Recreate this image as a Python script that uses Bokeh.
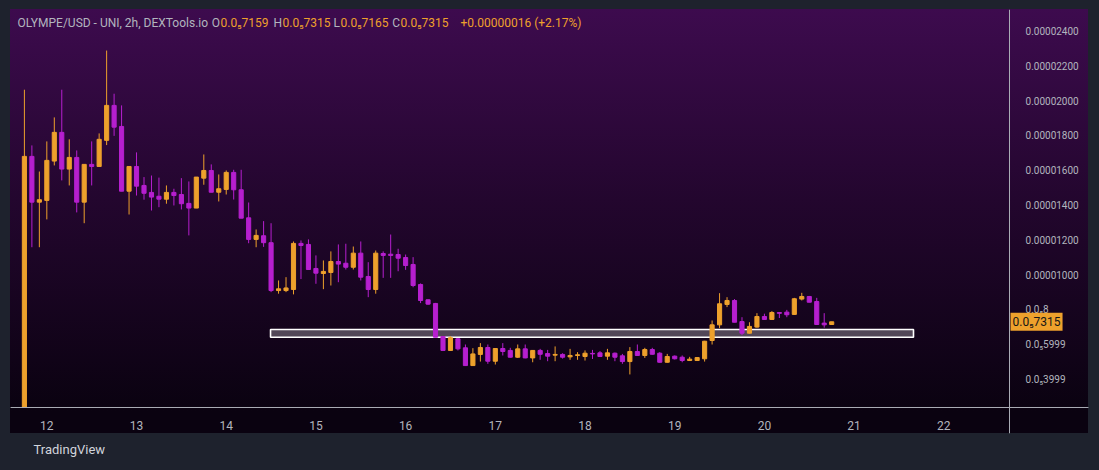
from bokeh.plotting import figure
from bokeh.models import ColumnDataSource, Range1d, LinearAxis, FixedTicker, Label, Title, Span
from bokeh.embed import file_html
from bokeh.resources import INLINE

# ---- data (prices in units of 1e-6 USD), 2h candles starting on day 11 at 18:00 ----
start_day = 11.75
step_days = 2 / 24
opens = [2.4, 16.82, 14.19, 14.29, 16.55, 18.2, 16.09, 16.76, 14.19, 16.36,
         16.24, 17.74, 19.75, 18.54, 14.82, 16.24, 15.15, 14.75, 14.53, 14.36,
         14.75, 14.63, 14.12, 13.85, 15.57, 16.01, 14.76, 14.92, 15.9, 14.9,
         13.29, 12.05, 12.26, 11.86, 9.11, 9.11, 9.17, 11.82, 11.76, 10.38,
         10.09, 10.15, 10.78, 10.68, 10.45, 11.26, 9.92, 9.17, 11.24, 11.2,
         11.18, 11.01, 10.61, 9.46, 8.58, 8.37, 6.47, 5.67, 6.34, 5.82,
         4.8, 5.44, 5.84, 5.05, 5.78, 5.67, 5.28, 5.76, 5.24, 5.67,
         5.49, 5.40, 5.44, 5.30, 5.38, 5.32, 5.5, 5.53, 5.34, 5.51,
         5.36, 5.03, 5.61, 5.38, 5.72, 5.51, 4.99, 5.34, 5.28, 5.09,
         5.09, 5.19, 6.24, 7.14, 8.31, 8.54, 7.33, 6.66, 7.01, 7.62,
         7.45, 7.85, 7.87, 7.74, 8.62, 8.77, 8.48, 7.24, 7.159]
highs = [20.65, 17.45, 15.95, 17.68, 19.06, 20.65, 17.8, 17.16, 16.36, 17.68,
         18.14, 22.9, 20.42, 19.75, 16.24, 17.05, 15.63, 15.72, 15.6, 15.15,
         14.96, 15.57, 15.38, 15.63, 16.93, 16.36, 15.78, 16.01, 16.05, 16.05,
         14.17, 12.62, 13.1, 12.98, 9.69, 9.88, 11.93, 11.99, 12.05, 11.13,
         10.84, 11.36, 11.76, 11.8, 11.64, 11.93, 10.74, 11.41, 11.36, 12.33,
         11.51, 11.18, 11.03, 9.52, 8.6, 8.4, 6.5, 6.49, 6.38, 6.01,
         5.8, 6.09, 6.01, 5.8, 6.09, 5.82, 6.01, 6.01, 5.69, 5.76,
         5.7, 5.9, 5.51, 5.76, 5.57, 5.67, 5.7, 5.63, 5.76, 5.55,
         5.47, 5.86, 6.01, 5.82, 5.82, 5.57, 5.47, 5.38, 5.38, 5.3,
         5.28, 6.22, 7.39, 8.96, 8.73, 8.62, 7.58, 7.29, 7.81, 7.78,
         7.93, 7.87, 8.0, 8.69, 8.98, 8.8, 8.69, 7.81, 7.315]
lows = [2.4, 11.6, 11.6, 13.2, 16.3, 15.44, 15.15, 13.6, 12.98, 15.15,
        16.24, 17.47, 18.0, 14.82, 13.48, 14.57, 14.33, 13.71, 13.9, 14.1,
        14.0, 13.77, 12.28, 13.85, 15.19, 14.76, 14.23, 14.63, 14.34, 13.27,
        11.83, 11.6, 11.62, 9.02, 8.93, 9.02, 8.89, 9.77, 10.32, 9.5,
        9.19, 9.4, 9.59, 10.32, 10.32, 9.69, 8.73, 8.93, 9.84, 9.84,
        10.22, 10.3, 9.3, 8.39, 8.3, 6.43, 5.67, 5.65, 5.67, 4.8,
        4.78, 5.03, 4.9, 4.86, 5.38, 5.26, 5.24, 5.22, 4.99, 5.13,
        5.05, 5.05, 5.2, 5.13, 5.13, 5.09, 5.18, 5.3, 5.13, 5.05,
        4.9, 4.29, 5.36, 5.24, 5.43, 4.97, 4.97, 5.15, 4.99, 5.07,
        5.07, 5.03, 6.01, 6.95, 8.16, 7.29, 6.55, 6.64, 6.98, 7.43,
        7.43, 7.53, 7.58, 7.72, 8.54, 8.44, 7.16, 6.98, 7.159]
closes = [16.82, 14.19, 14.33, 16.59, 18.2, 16.09, 16.76, 14.19, 16.36, 16.24,
          17.8, 19.75, 18.5, 14.82, 16.24, 15.11, 14.7, 14.48, 14.36, 14.75,
          14.57, 14.1, 13.85, 15.63, 16.01, 14.76, 14.96, 15.9, 14.9, 13.27,
          12.05, 12.28, 11.86, 9.11, 9.21, 9.26, 11.82, 11.7, 10.32, 10.11,
          10.21, 10.78, 10.63, 10.45, 11.26, 9.88, 9.17, 11.26, 11.13, 11.13,
          10.97, 10.55, 9.4, 8.54, 8.33, 6.43, 5.67, 6.4, 5.76, 4.8,
          5.47, 5.84, 5.05, 5.78, 5.61, 5.28, 5.76, 5.24, 5.67, 5.45,
          5.34, 5.44, 5.28, 5.38, 5.42, 5.51, 5.47, 5.32, 5.53, 5.28,
          5.03, 5.61, 5.38, 5.72, 5.45, 4.99, 5.32, 5.19, 5.09, 5.17,
          5.26, 6.2, 7.14, 8.35, 8.54, 7.29, 6.66, 7.05, 7.62, 7.45,
          7.85, 7.80, 7.72, 8.64, 8.77, 8.44, 7.16, 7.14, 7.315]

day_ticks = [12, 13, 14, 15, 16, 17, 18, 19, 20, 21, 22]
price_ticks = [3.999, 5.999, 8, 10, 12, 14, 16, 18, 20, 22, 24]
price_tick_labels = ["0.0\u20853999", "0.0\u20855999", "0.0\u20858", "0.00001000", "0.00001200",
                     "0.00001400", "0.00001600", "0.00001800", "0.00002000", "0.00002200",
                     "0.00002400"]
zone_days = [14.494, 21.662]
zone_prices = [6.43, 6.874]
last_price_text = "0.0\u20857315"
header_pair = "OLYMPE/USD - UNI, 2h, DEXTools.io"
header_ohlc = [("O", "0.0\u20857159"), ("H", "0.0\u20857315"), ("L", "0.0\u20857165"), ("C", "0.0\u20857315")]
header_change = "+0.00000016 (+2.17%)"

UP = "#eea12c"
DOWN = "#b61fcf"
TXT = "#b2b5be"
LINE = "#a9acb5"

times = [start_day + i * step_days for i in range(len(opens))]
colors = [UP if c >= o else DOWN for o, c in zip(opens, closes)]
src = ColumnDataSource(dict(
    t=times, o=opens, h=highs, l=lows, c=closes,
    top=[max(o, c) for o, c in zip(opens, closes)],
    bot=[min(o, c) for o, c in zip(opens, closes)],
    col=colors))

# visible price pane ends at the price scale / time scale lines
pane_right_day = 22.7325
pane_bottom_price = 2.391

W, H = 1099, 470
p = figure(width=W, height=H, output_backend="svg", toolbar_location=None,
           x_range=Range1d(11.595, 23.613), y_range=Range1d(0.8966, 25.26),
           min_border_left=10, min_border_top=9, min_border_right=11, min_border_bottom=37,
           x_axis_location=None, y_axis_location=None)
p.background_fill_alpha = 0
p.border_fill_alpha = 0
p.outline_line_color = None
p.xgrid.grid_line_color = None
p.ygrid.grid_line_color = None

panel_css = ("linear-gradient(180deg, #3d0b4e 0%, #23062e 45%, #0a0210 95%, #0a0210 100%) "
             "10px 9px / 1078px 424px no-repeat, #1e222d")
p.styles = {"background": panel_css}

# axes (drawn at the pane edges)
xa = LinearAxis(ticker=FixedTicker(ticks=day_ticks), fixed_location=pane_bottom_price)
xa.major_label_overrides = {d: str(d) for d in day_ticks}
xa.axis_line_color = LINE
xa.axis_line_width = 1
xa.major_tick_line_color = None
xa.minor_tick_line_color = None
xa.major_label_text_color = TXT
xa.major_label_text_font = "Roboto"
xa.major_label_text_font_size = "12px"
xa.major_label_standoff = 8
p.add_layout(xa, "below")

ya = LinearAxis(ticker=FixedTicker(ticks=price_ticks), fixed_location=pane_right_day)
ya.major_label_overrides = dict(zip(price_ticks, price_tick_labels))
ya.axis_line_color = LINE
ya.major_tick_line_color = None
ya.minor_tick_line_color = None
ya.major_label_text_color = TXT
ya.major_label_text_font = "Roboto"
ya.major_label_text_font_size = "10px"
ya.major_label_standoff = 10
p.add_layout(ya, "right")

p.add_layout(Span(location=pane_bottom_price, dimension="width", line_color=LINE, line_width=1))

# support zone
p.quad(left=[zone_days[0]], right=[zone_days[1]], bottom=[zone_prices[0]], top=[zone_prices[1]],
       fill_color="white", fill_alpha=0.27, line_color="white", line_width=1.6)

# candles
p.segment(x0="t", y0="h", x1="t", y1="l", color="col", line_width=1, source=src)
p.vbar(x="t", width=0.046, top="top", bottom="bot", fill_color="col", line_color="col",
       line_width=1, source=src)

# header (frame-relative screen units)
HY = 411
p.add_layout(Label(x=7, y=HY, x_units="screen", y_units="screen", text=header_pair,
                   text_color=TXT, text_font="Roboto", text_font_size="12px", text_baseline="middle"))
value_x = [210, 272, 330, 390]
for (k, v), vx in zip(header_ohlc, value_x):
    p.add_layout(Label(x=vx - 0.5, y=HY, x_units="screen", y_units="screen", text=k,
                       text_color=TXT, text_font="Roboto", text_font_size="12px",
                       text_baseline="middle", text_align="right"))
    p.add_layout(Label(x=vx, y=HY, x_units="screen", y_units="screen", text=v,
                       text_color=UP, text_font="Roboto", text_font_size="12px", text_baseline="middle"))
p.add_layout(Label(x=450, y=HY, x_units="screen", y_units="screen", text=header_change,
                   text_color=UP, text_font="Roboto", text_font_size="12px", text_baseline="middle"))

# last price tag on the price scale
p.add_layout(Label(x=pane_right_day, y=closes[-1], x_offset=1, text=last_price_text,
                   text_color="#161616", text_font="Roboto", text_font_size="12px",
                   text_baseline="middle", text_align="left",
                   background_fill_color=UP, padding=2))

# TradingView footer
p.add_layout(Title(text="TradingView", align="left", offset=23, standoff=12,
                   text_color="#d1d4dc", text_font="Roboto", text_font_size="13px",
                   text_font_style="normal"), "below")

html = file_html(p, INLINE)
html = html.replace("<head>", "<head><style>html,body{margin:0;padding:0;background:#1e222d;overflow:hidden;}</style>", 1)
open("out.html", "w").write(html)
